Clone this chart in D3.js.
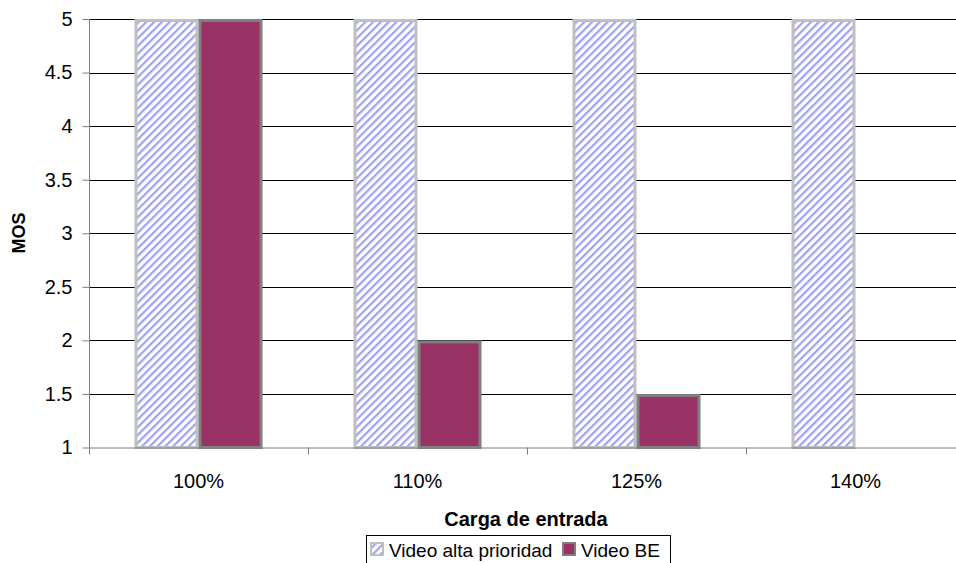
<!DOCTYPE html>
<html>
<head>
<meta charset="utf-8">
<script src="https://cdn.jsdelivr.net/npm/d3@7"></script>
<style>
  html, body { margin: 0; padding: 0; background: #fff; }
  svg { display: block; font-family: "Liberation Sans", Arial, sans-serif; }
</style>
</head>
<body>
<svg id="chart" width="956" height="563"></svg>
<script>
// Categories (input load) and MOS values per series
const categories = ["100%", "110%", "125%", "140%"];
const seriesNames = ["Video alta prioridad", "Video BE"];
const altaPrioridad = [5, 5, 5, 5];
const videoBE = [5, 2, 1.5, 1];
const yTicks = [1, 1.5, 2, 2.5, 3, 3.5, 4, 4.5, 5];

const svg = d3.select("#chart");
const margin = { left: 89, top: 19, bottom: 447.5 };
const plotRight = 965;
const fs = 20;

const defs = svg.append("defs");
const pat = defs.append("pattern")
  .attr("id", "hatch")
  .attr("patternUnits", "userSpaceOnUse")
  .attr("width", 5.5).attr("height", 5.5)
  .attr("patternTransform", "rotate(45)");
pat.append("rect").attr("width", 5.5).attr("height", 5.5).attr("fill", "#ffffff");
pat.append("rect").attr("x", 0).attr("width", 2.2).attr("height", 5.5).attr("fill", "#a0a0f4");

const x0 = d3.scaleBand().domain(categories).range([margin.left, plotRight]).paddingInner(0).paddingOuter(0);
const x1 = d3.scaleBand().domain(seriesNames).range([0, x0.bandwidth()]).paddingInner(0).paddingOuter(0.71);
const y = d3.scaleLinear().domain([1, 5]).range([margin.bottom, margin.top]);

// horizontal gridlines
svg.append("g").selectAll("line").data(yTicks.slice(1)).join("line")
  .attr("x1", margin.left).attr("x2", plotRight)
  .attr("y1", d => Math.round(y(d)) + 0.5).attr("y2", d => Math.round(y(d)) + 0.5)
  .attr("stroke", "#000").attr("stroke-width", 1);

// y axis
const yAxis = d3.axisLeft(y).tickValues(yTicks).tickSize(7).tickPadding(10)
  .tickFormat(d => String(d));
const gy = svg.append("g").attr("transform", `translate(${margin.left + 0.5},0)`).call(yAxis);
gy.select(".domain").attr("stroke", "#808080").attr("d", `M0,${margin.top}V${margin.bottom}`);
gy.selectAll(".tick line").attr("stroke", "#808080");
gy.selectAll(".tick text").attr("font-size", fs).attr("fill", "#000")
  .attr("font-family", "Liberation Sans, Arial, sans-serif");

// bars
const rows = categories.map((c, i) => ({ cat: c, vals: [altaPrioridad[i], videoBE[i]] }));
const groups = svg.append("g").selectAll("g").data(rows).join("g")
  .attr("transform", d => `translate(${x0(d.cat)},0)`);

groups.selectAll("rect")
  .data(d => d.vals.map((v, j) => ({ name: seriesNames[j], v })).filter(e => e.v > 1))
  .join("rect")
  .attr("x", d => x1(d.name) + 1.5)
  .attr("width", x1.bandwidth() - 3)
  .attr("y", d => y(d.v) + 1.5)
  .attr("height", d => y(1) - y(d.v) - 1.5)
  .attr("fill", d => d.name === seriesNames[0] ? "url(#hatch)" : "#993366")
  .attr("stroke", d => d.name === seriesNames[0] ? "#c0c0c0" : "#808080")
  .attr("stroke-width", 3);

// x axis baseline and ticks
const gx = svg.append("g");
gx.append("line").attr("x1", margin.left).attr("x2", plotRight)
  .attr("y1", margin.bottom + 0.5).attr("y2", margin.bottom + 0.5)
  .attr("stroke", "#808080");
const boundaries = categories.map(c => x0(c)).concat([plotRight]);
gx.selectAll("line.tk").data(boundaries).join("line").attr("class", "tk")
  .attr("x1", d => Math.round(d) + 0.5).attr("x2", d => Math.round(d) + 0.5)
  .attr("y1", margin.bottom).attr("y2", margin.bottom + 7)
  .attr("stroke", "#808080");
gx.selectAll("text").data(categories).join("text")
  .attr("x", d => x0(d) + x0.bandwidth() / 2)
  .attr("y", 488)
  .attr("text-anchor", "middle")
  .attr("font-size", fs)
  .text(d => d);

// axis titles
svg.append("text").attr("x", 526).attr("y", 526).attr("text-anchor", "middle")
  .attr("font-size", fs).attr("font-weight", "bold").text("Carga de entrada");
svg.append("text").attr("transform", "translate(25,233) rotate(-90)")
  .attr("text-anchor", "middle").attr("font-size", 18).attr("font-weight", "bold").text("MOS");

// legend
const lg = svg.append("g");
lg.append("rect").attr("x", 366.5).attr("y", 535.5).attr("width", 304).attr("height", 40)
  .attr("fill", "#fff").attr("stroke", "#000");
const items = [
  { name: seriesNames[0], fill: "url(#hatch)", stroke: "#c0c0c0", x: 370 },
  { name: seriesNames[1], fill: "#993366", stroke: "#808080", x: 562 }
];
items.forEach(it => {
  lg.append("rect").attr("x", it.x + 1).attr("y", 543).attr("width", 12).attr("height", 12)
    .attr("fill", it.fill).attr("stroke", it.stroke).attr("stroke-width", 2);
  lg.append("text").attr("x", it.x + 19).attr("y", 557).attr("font-size", 19).text(it.name);
});
</script>
</body>
</html>
